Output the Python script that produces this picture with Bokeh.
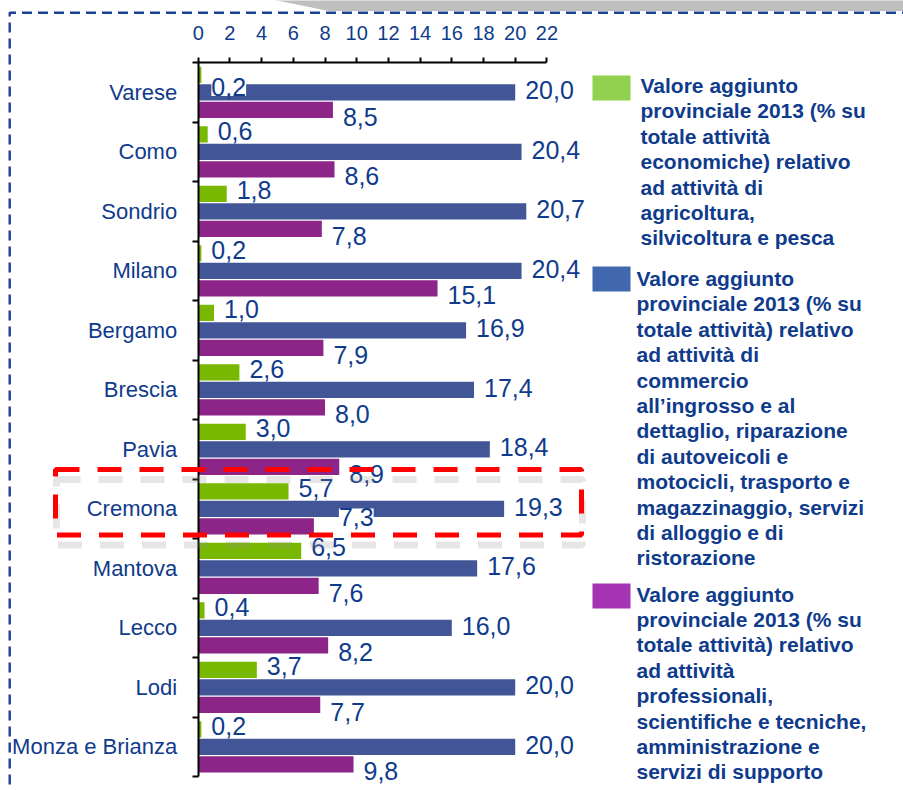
from bokeh.plotting import figure
from bokeh.models import Range1d, FixedTicker, ColumnDataSource, LabelSet
from bokeh.core.properties import value
from bokeh.embed import file_html
from bokeh.resources import INLINE

# ---------------- data ----------------
provinces = ["Varese", "Como", "Sondrio", "Milano", "Bergamo", "Brescia", "Pavia",
             "Cremona", "Mantova", "Lecco", "Lodi", "Monza e Brianza"]
agricoltura = [0.2, 0.6, 1.8, 0.2, 1.0, 2.6, 3.0, 5.7, 6.5, 0.4, 3.7, 0.2]
commercio = [20.0, 20.4, 20.7, 20.4, 16.9, 17.4, 18.4, 19.3, 17.6, 16.0, 20.0, 20.0]
professionali = [8.5, 8.6, 7.8, 15.1, 7.9, 8.0, 8.9, 7.3, 7.6, 8.2, 7.7, 9.8]
x_ticks = [0, 2, 4, 6, 8, 10, 12, 14, 16, 18, 20, 22]
highlight = "Cremona"

legend_agri = ["Valore aggiunto", "provinciale 2013 (% su", "totale attività",
               "economiche) relativo", "ad attività di", "agricoltura,",
               "silvicoltura e pesca"]
legend_comm = ["Valore aggiunto", "provinciale 2013 (% su", "totale attività) relativo",
               "ad attività di", "commercio", "all’ingrosso e al",
               "dettaglio, riparazione", "di autoveicoli e", "motocicli, trasporto e",
               "magazzinaggio, servizi", "di alloggio e di", "ristorazione"]
legend_prof = ["Valore aggiunto", "provinciale 2013 (% su", "totale attività) relativo",
               "ad attività", "professionali,", "scientifiche e tecniche,",
               "amministrazione e", "servizi di supporto"]

# ---------------- layout helpers (page pixels -> data) ----------------
W, H = 903, 790
PAGE = 0
X0, XS = 197.7, 15.85      # page px of value 0, px per unit
YC0, YS = 91.95, 59.5      # page px of first category centre, px per category


def dx(px):
    return (px - X0) / XS


def dy(py):
    return (py - YC0) / YS


FONT = "Liberation Sans"
TXT = "#0F3B8C"

p = figure(width=W, height=H,
           x_range=Range1d(dx(PAGE), dx(PAGE + W)),
           y_range=Range1d(dy(PAGE + H), dy(PAGE)),
           x_axis_location="above",
           output_backend="svg", toolbar_location=None, min_border=0)
p.outline_line_color = None
p.xgrid.visible = False
p.ygrid.visible = False
p.background_fill_color = "white"
p.border_fill_color = "white"

# decorations: grey tab + dashed frame
p.patch(x=[dx(267), dx(328), dx(910), dx(910)], y=[dy(-2), dy(10.5), dy(10.5), dy(-2)],
        color="#BFBFBF", line_color=None)
p.line(x=[dx(9.2), dx(9.2), dx(910)], y=[dy(800), dy(12.3), dy(12.3)],
       line_color="#1E4196", line_width=2.4, line_dash="10 6")

# ---------------- bars ----------------
series = [
    (agricoltura, "#79B800", -0.294, -3.5),
    (commercio, "#415597", 0.0, -2.0),
    (professionali, "#8D2488", 0.294, 7.0),
]
special_nudge = {("Varese", 0): (0.0, 12.0), ("Cremona", 2): (15.0, -9.0)}
BAR_H = 0.274

for si, (vals, col, off, nudge) in enumerate(series):
    ys = [i + off for i in range(len(provinces))]
    p.hbar(y=ys, left=0, right=vals, height=BAR_H, color=col, line_color=None)
    lx, ly = [], []
    for i, name in enumerate(provinces):
        nx, ny = special_nudge.get((name, si), (0.0, nudge))
        lx.append(vals[i] + nx / XS)
        ly.append(ys[i] + ny / YS)
    src = ColumnDataSource(dict(x=lx, y=ly,
                                t=[f"{v:.1f}".replace(".", ",") for v in vals]))
    p.add_layout(LabelSet(x="x", y="y", text="t", source=src, x_offset=10,
                          text_baseline="middle", text_align="left",
                          text_font=value(FONT), text_font_size="25px",
                          text_color=TXT, background_fill_color="white"))

# ---------------- axes ----------------
xa = p.xaxis[0]
xa.fixed_location = -0.5
xa.bounds = (0, 22)
xa.ticker = FixedTicker(ticks=x_ticks)
xa.axis_line_color = "black"
xa.axis_line_width = 2
xa.major_tick_line_color = "black"
xa.major_tick_line_width = 2
xa.major_tick_out = 5
xa.major_tick_in = 0
xa.minor_tick_line_color = None
xa.major_label_text_font = FONT
xa.major_label_text_font_size = "20px"
xa.major_label_text_color = TXT
xa.major_label_standoff = 18

ya = p.yaxis[0]
ya.fixed_location = 0
ya.bounds = (-0.5, len(provinces) - 0.5)
ya.ticker = FixedTicker(ticks=list(range(len(provinces))),
                        minor_ticks=[i - 0.5 for i in range(len(provinces) + 1)])
ya.major_label_overrides = {i: n for i, n in enumerate(provinces)}
ya.axis_line_color = "black"
ya.axis_line_width = 2
ya.major_tick_line_color = None
ya.major_tick_out = 0
ya.major_tick_in = 0
ya.minor_tick_line_color = "black"
ya.minor_tick_line_width = 2
ya.minor_tick_out = 6
ya.minor_tick_in = 0
ya.major_label_text_font = FONT
ya.major_label_text_font_size = "22px"
ya.major_label_text_color = TXT
ya.major_label_standoff = 15

# ---------------- highlight box around Cremona ----------------
hi = provinces.index(highlight)
ref_top = dy(YC0 + YS * 6.5)
box_l, box_r = dx(55), dx(581)
box_t = hi - 0.5 + dy(469) - ref_top
box_b = hi - 0.5 + dy(534.5) - ref_top
sh = p.quad(left=box_l + 1 / XS, right=box_r + 1 / XS, top=box_t + 10 / YS, bottom=box_b + 10 / YS,
            fill_alpha=0, line_color="#8C8C8C", line_alpha=0.22, line_width=7, line_dash="24 18")
sh.level = "overlay"
rb = p.quad(left=box_l, right=box_r, top=box_t, bottom=box_b,
            fill_alpha=0, line_color="#FF0000", line_width=5, line_dash="24 18")
rb.level = "overlay"

# ---------------- legend ----------------
legend = [
    (legend_agri, "#92D050", 75, 640, 85.0),
    (legend_comm, "#4168AE", 266, 636, 278.0),
    (legend_prof, "#A534B4", 583, 636, 593.5),
]
LS = 25.4
for lines, col, sw_top, tx, ty in legend:
    p.quad(left=dx(592), right=dx(630), top=dy(sw_top), bottom=dy(sw_top + 25),
           color=col, line_color=None)
    p.text(x=[dx(tx)] * len(lines), y=[dy(ty + k * LS) for k in range(len(lines))],
           text=lines, text_font=value(FONT), text_font_style="bold",
           text_font_size="21px", text_color=TXT, text_baseline="middle")

open("out.html", "w").write(file_html(p, INLINE))
